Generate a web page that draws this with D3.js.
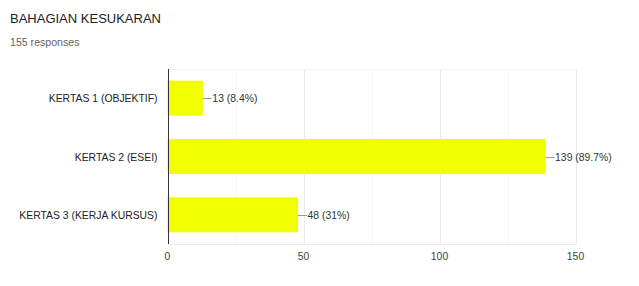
<!DOCTYPE html>
<html>
<head>
<meta charset="utf-8">
<script src="https://cdn.jsdelivr.net/npm/d3@7"></script>
<style>
  body { margin: 0; background: #fff; }
  text { font-family: Arial, "Liberation Sans", sans-serif; }
</style>
</head>
<body>
<div id="container"></div>
<script>
/* DATA */
const categories = ["KERTAS 1 (OBJEKTIF)", "KERTAS 2 (ESEI)", "KERTAS 3 (KERJA KURSUS)"];
const counts = [13, 139, 48];
const percents = ["8.4%", "89.7%", "31%"];
const xTicks = [0, 50, 100, 150];
const xMinorTicks = [25, 75, 125];

const width = 639, height = 286;
const margin = { top: 69, right: 64, bottom: 42, left: 167.5 };

const svg = d3.select('#container')
  .append('svg')
  .attr("width", width)
  .attr("height", height);

// Title and subtitle
svg.append("text")
  .attr("x", 10)
  .attr("y", 23)
  .attr("font-family", "Roboto, sans-serif")
  .attr("font-size", 13)
  .attr("fill", "#202124")
  .text("BAHAGIAN KESUKARAN");

svg.append("text")
  .attr("x", 10)
  .attr("y", 46)
  .attr("font-family", "Roboto, sans-serif")
  .attr("font-size", 10.6)
  .attr("fill", "#5f6368")
  .text("155 responses");

const xScale = d3.scaleLinear()
  .domain([0, 150])
  .range([margin.left, width - margin.right + 0.5]);

const yScale = d3.scaleBand()
  .domain(categories)
  .range([margin.top, height - margin.bottom])
  .paddingInner(0.4)
  .paddingOuter(0.2);

const chart = svg.append("g");

// Minor gridlines
chart.selectAll(".minor")
  .data(xMinorTicks)
  .enter()
  .append("line")
  .attr("x1", d => Math.round(xScale(d)) + 0.5)
  .attr("x2", d => Math.round(xScale(d)) + 0.5)
  .attr("y1", margin.top)
  .attr("y2", height - margin.bottom)
  .attr("stroke", "#f5f5f5");

// Major gridlines
chart.selectAll(".major")
  .data(xTicks.slice(1))
  .enter()
  .append("line")
  .attr("x1", d => Math.round(xScale(d)) + 0.5)
  .attr("x2", d => Math.round(xScale(d)) + 0.5)
  .attr("y1", margin.top)
  .attr("y2", height - margin.bottom)
  .attr("stroke", "#ebebeb");

// Top and bottom lines
chart.append("line")
  .attr("x1", margin.left)
  .attr("x2", xScale(150))
  .attr("y1", margin.top + 0.5)
  .attr("y2", margin.top + 0.5)
  .attr("stroke", "#f5f5f5");

chart.append("line")
  .attr("x1", margin.left)
  .attr("x2", xScale(150))
  .attr("y1", height - margin.bottom + 0.5)
  .attr("y2", height - margin.bottom + 0.5)
  .attr("stroke", "#ebebeb");

// Bars
chart.selectAll(".bar")
  .data(counts)
  .enter()
  .append("rect")
  .attr("class", "bar")
  .attr("x", xScale(0))
  .attr("y", (d, i) => yScale(categories[i]))
  .attr("width", d => xScale(d) - xScale(0))
  .attr("height", yScale.bandwidth())
  .attr("fill", "#f2ff00");

// Zero axis line
chart.append("line")
  .attr("x1", Math.round(xScale(0)) + 0.5)
  .attr("x2", Math.round(xScale(0)) + 0.5)
  .attr("y1", margin.top)
  .attr("y2", height - margin.bottom)
  .attr("stroke", "#333");

// Leader lines and value labels
chart.selectAll(".leader")
  .data(counts)
  .enter()
  .append("line")
  .attr("x1", d => xScale(d))
  .attr("x2", d => xScale(d) + 9)
  .attr("y1", (d, i) => Math.round(yScale(categories[i]) + yScale.bandwidth() / 2) + 0.5)
  .attr("y2", (d, i) => Math.round(yScale(categories[i]) + yScale.bandwidth() / 2) + 0.5)
  .attr("stroke", "#999");

chart.selectAll(".value")
  .data(counts)
  .enter()
  .append("text")
  .attr("x", d => xScale(d) + 9.5)
  .attr("y", (d, i) => yScale(categories[i]) + yScale.bandwidth() / 2 + 4)
  .attr("font-size", 10.4)
  .attr("fill", "#333")
  .text((d, i) => `${d} (${percents[i]})`);

// Category labels
chart.selectAll(".cat")
  .data(categories)
  .enter()
  .append("text")
  .attr("x", margin.left - 10)
  .attr("y", d => yScale(d) + yScale.bandwidth() / 2 + 4)
  .attr("text-anchor", "end")
  .attr("font-size", 10.4)
  .attr("fill", "#222")
  .text(d => d);

// X tick labels
chart.selectAll(".xtick")
  .data(xTicks)
  .enter()
  .append("text")
  .attr("x", d => xScale(d))
  .attr("y", height - margin.bottom + 16)
  .attr("text-anchor", "middle")
  .attr("font-size", 10.4)
  .attr("fill", "#444")
  .text(d => d);
</script>
</body>
</html>
